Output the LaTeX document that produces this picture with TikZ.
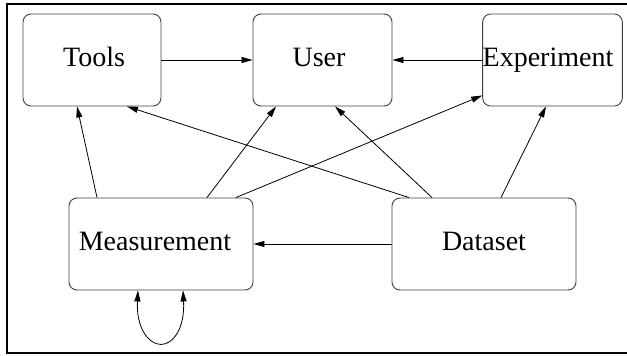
\documentclass[tikz,border=0pt]{standalone}
\usepackage{fontspec}
\setmainfont{Liberation Serif}
\newfontfamily\boxfont{Liberation Serif}
\usetikzlibrary{arrows.meta}
\begin{document}
\begin{tikzpicture}[x=1pt,y=-1pt,
  box/.style={draw=black!75,line width=0.9pt,rounded corners=8pt,minimum width=#1,minimum height=92pt,inner sep=0pt,text height=12pt,text depth=0pt,font=\boxfont\fontsize{28}{30}\selectfont},
  box/.default=139pt,
  conn/.style={line width=0.8pt,-{Triangle[length=11pt,width=6pt]}},
  loopconn/.style={line width=0.8pt,{Triangle[length=11pt,width=6pt]}-{Triangle[length=11pt,width=6pt]}},
  frame/.style={line width=2pt}
]
\useasboundingbox (0,0) rectangle (627,356);
\draw[frame] (627,4) -- (6.5,4) -- (6.5,353) -- (627,353);

\node[box=138pt] (tools) at (92,60) {\hspace*{4pt}Tools};
\node[box] (user) at (322.5,60) {User\hspace*{7pt}};
\node[box] (exp) at (552.5,60) {Experiment\hspace*{9pt}};
\node[box=184pt] (meas) at (161,244) {Measurement\hspace*{12pt}};
\node[box=184pt] (data) at (484,244) {Dataset};

\draw[conn] (tools.east) -- (user.west);
\draw[conn] (exp.west) -- (user.east);
\draw[conn] ([xshift=-64pt]meas.north) -- ([xshift=-15pt]tools.south);
\draw[conn] ([xshift=46pt]meas.north) -- ([xshift=-46.5pt]user.south);
\draw[conn] ([xshift=75pt]meas.north) -- ([yshift=11pt]exp.south west);
\draw[conn] ([xshift=-75pt]data.north) -- ([xshift=35pt]tools.south);
\draw[conn] ([xshift=-52pt]data.north) -- ([xshift=12.5pt]user.south);
\draw[conn] ([xshift=17pt]data.north) -- ([xshift=-6.5pt]exp.south);
\draw[conn] (data.west) -- (meas.east);
\draw[loopconn] ([xshift=-23pt]meas.south) .. controls +(-2,38) and +(-12,0) .. ([yshift=-54pt]meas.south) .. controls +(12,0) and +(2,38) .. ([xshift=22pt]meas.south);
\end{tikzpicture}
\end{document}
